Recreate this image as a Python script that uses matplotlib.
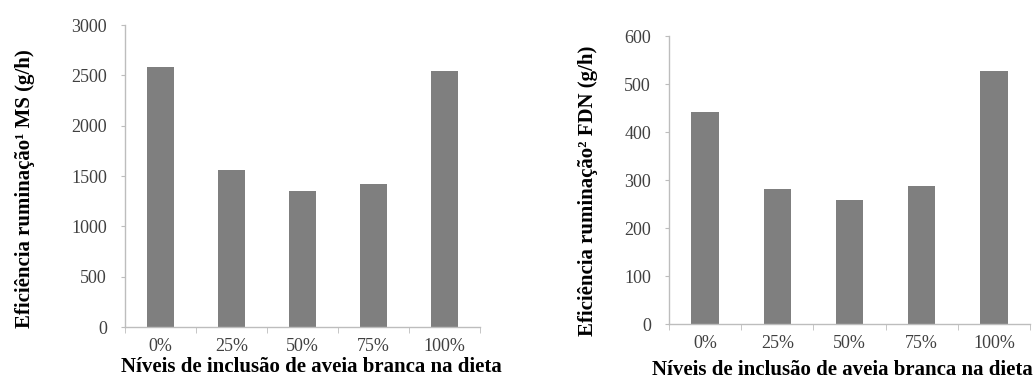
import matplotlib
matplotlib.use("Agg")
import matplotlib.pyplot as plt
import numpy as np

categories = ["0%", "25%", "50%", "75%", "100%"]
ms_values = [2580, 1555, 1355, 1420, 2545]
fdn_values = [442, 282, 258, 288, 528]

plt.rcParams['font.family'] = ['Liberation Serif', 'DejaVu Serif']

fig = plt.figure(figsize=(10.36, 3.79), dpi=100)
ax1 = fig.add_axes([0.1207, 0.1372, 0.3426, 0.7968])
ax2 = fig.add_axes([0.6458, 0.1451, 0.3484, 0.7599])

bar_color = "#7f7f7f"
axis_color = "#bdbdbd"
tick_text = "#404040"

def style(ax, values, ylim, step, ylabel, ylab_xy, xlab_xy):
    x = np.arange(len(categories))
    ax.bar(x, values, width=0.38, color=bar_color)
    ax.set_xlim(-0.5, len(categories) - 0.5)
    ax.set_ylim(0, ylim)
    ax.set_yticks(np.arange(0, ylim + 1, step))
    ax.set_xticks(x)
    ax.set_xticklabels(categories)
    ax.set_xticks(np.arange(-0.5, len(categories), 1.0), minor=True)
    ax.tick_params(axis='x', which='major', length=0, labelsize=13, colors=tick_text, pad=8)
    ax.tick_params(axis='x', which='minor', length=4, color=axis_color, direction='out')
    ax.tick_params(axis='y', length=3, color=axis_color, labelsize=13, labelcolor=tick_text, pad=10)
    for s in ['top', 'right']:
        ax.spines[s].set_visible(False)
    for s in ['left', 'bottom']:
        ax.spines[s].set_color(axis_color)
        ax.spines[s].set_linewidth(1.0)
    ax.set_ylabel(ylabel, fontsize=15, fontweight='bold', va='center')
    ax.yaxis.set_label_coords(*ylab_xy)
    ax.set_xlabel("Níveis de inclusão de aveia branca na dieta", fontsize=15,
                  fontweight='bold', va='center')
    ax.xaxis.set_label_coords(*xlab_xy)

style(ax1, ms_values, 3000, 500, "Eficiência ruminação¹ MS (g/h)",
      (-0.282, 0.457), (0.524, -0.132))
style(ax2, fdn_values, 600, 100, "Eficiência ruminação² FDN (g/h)",
      (-0.224, 0.462), (0.479, -0.16))

fig.savefig("out.png", dpi=100, facecolor="white")
